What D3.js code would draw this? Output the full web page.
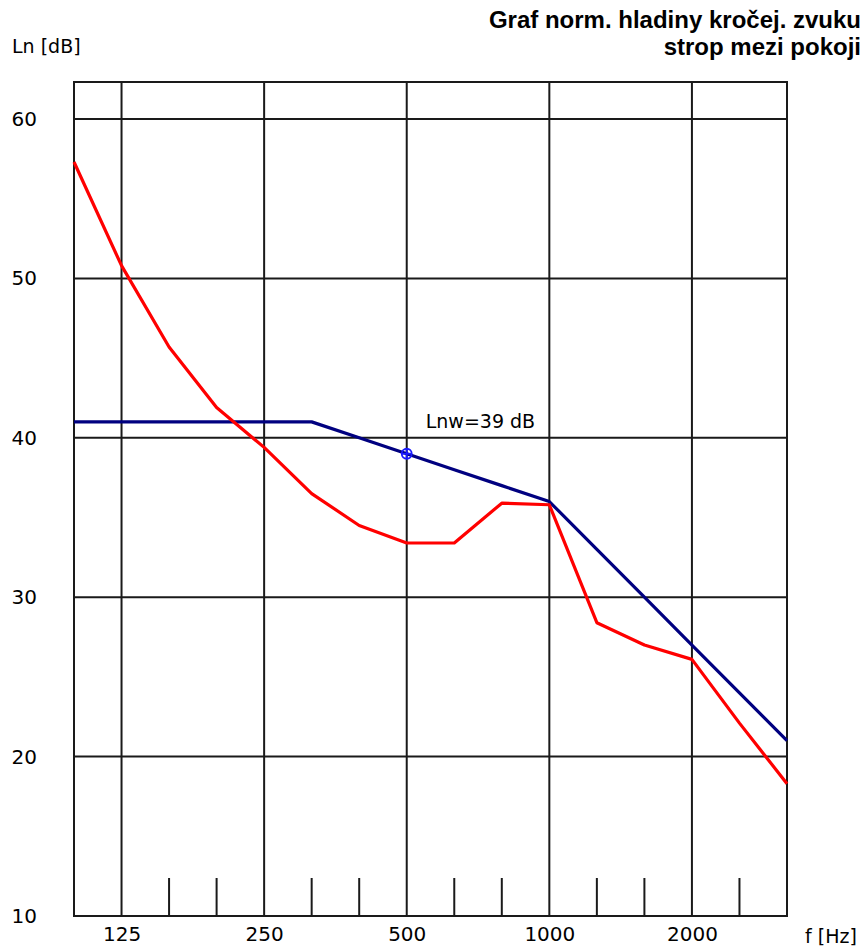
<!DOCTYPE html>
<html>
<head>
<meta charset="utf-8">
<script src="https://cdn.jsdelivr.net/npm/d3@7"></script>
<style>
  html, body { margin: 0; padding: 0; background: #fff; }
  svg { display: block; }
  text { fill: #000; }
</style>
</head>
<body>
<script>
// ---- data ----
const bands = ["100","125","160","200","250","315","400","500","630","800","1000","1250","1600","2000","2500","3150"];
const measured = [57.3, 50.8, 45.7, 41.9, 39.4, 36.5, 34.5, 33.4, 33.4, 35.9, 35.8, 28.4, 27.0, 26.1, 22.1, 18.3];
const reference = [41, 41, 41, 41, 41, 41, 40, 39, 38, 37, 36, 33, 30, 27, 24, 21];
const labeledBands = ["125","250","500","1000","2000"];
const yTicks = [10, 20, 30, 40, 50, 60];
const ratingBand = "500";
const ratingValue = 39;
const ratingLabel = "Lnw=39 dB";
const titleLines = ["Graf norm. hladiny kročej. zvuku", "strop mezi pokoji"];
const yAxisTitle = "Ln [dB]";
const xAxisTitle = "f [Hz]";

// ---- layout ----
const W = 868, H = 948;
const pL = 74, pR = 787, pT = 82, pB = 916;
const FONT = "'DejaVu Sans', 'Liberation Sans', Arial, sans-serif";
const TFONT = "'Liberation Sans', Arial, sans-serif";

const svg = d3.select("body").append("svg").attr("width", W).attr("height", H);

const x = d3.scalePoint().domain(bands).range([pL, pR]);
const y = d3.scaleLinear().domain([10, 10 + (pB - pT) / 15.94]).range([pB, pT]);

const grid = svg.append("g").attr("stroke", "#1a1a1a").attr("stroke-width", 2).attr("fill", "none");
// horizontal grid
grid.selectAll("line.h").data(yTicks.filter(d => d > 10)).join("line")
  .attr("x1", pL).attr("x2", pR).attr("y1", d => y(d)).attr("y2", d => y(d));
// vertical grid at labeled bands
grid.selectAll("line.v").data(labeledBands).join("line")
  .attr("x1", d => x(d)).attr("x2", d => x(d)).attr("y1", pT).attr("y2", pB);
// short ticks at other bands
grid.selectAll("line.t").data(bands.filter(b => !labeledBands.includes(b) && b !== bands[0] && b !== bands[bands.length-1])).join("line")
  .attr("x1", d => x(d)).attr("x2", d => x(d)).attr("y1", pB - 38).attr("y2", pB);
// frame
grid.append("rect").attr("x", pL).attr("y", pT).attr("width", pR - pL).attr("height", pB - pT);

// y axis labels
const yAxis = d3.axisLeft(y).tickValues(yTicks).tickSize(0).tickPadding(37).tickFormat(d3.format("d"));
const gy = svg.append("g").attr("transform", `translate(${pL},0)`).call(yAxis);
gy.select(".domain").remove();
gy.selectAll("text").style("font-size", "20px").style("font-family", FONT).attr("fill", "#000");

// x axis labels
const xAxis = d3.axisBottom(x).tickValues(labeledBands).tickSize(0).tickPadding(11);
const gx = svg.append("g").attr("transform", `translate(0,${pB})`).call(xAxis);
gx.select(".domain").remove();
gx.selectAll("text").style("font-size", "20px").style("font-family", FONT).attr("fill", "#000");

// curves
const line = d3.line().x((d, i) => x(bands[i])).y(d => y(d));
svg.append("path").datum(reference).attr("d", line)
  .attr("fill", "none").attr("stroke", "#000080").attr("stroke-width", 3.2).attr("stroke-linejoin", "round");
svg.append("path").datum(measured).attr("d", line)
  .attr("fill", "none").attr("stroke", "#ff0000").attr("stroke-width", 3.2).attr("stroke-linejoin", "round");

// rating marker
const mx = x(ratingBand), my = y(ratingValue);
const mk = svg.append("g").attr("stroke", "#1a1aff").attr("stroke-width", 1.8).attr("fill", "none");
mk.append("circle").attr("cx", mx).attr("cy", my).attr("r", 5);
mk.append("line").attr("x1", mx - 5).attr("x2", mx + 5).attr("y1", my).attr("y2", my);
mk.append("line").attr("x1", mx).attr("x2", mx).attr("y1", my - 5).attr("y2", my + 5);

svg.append("text").attr("x", mx + 19).attr("y", y(ratingValue + 1.6))
  .style("font-size", "19px").style("font-family", FONT)
  .attr("fill", "#222").text(ratingLabel);

// titles
svg.append("text").attr("x", 12).attr("y", 53).style("font-size", "19px").style("font-family", FONT).text(yAxisTitle);
svg.append("text").attr("x", 805).attr("y", 943).style("font-size", "19px").style("font-family", FONT).text(xAxisTitle);
svg.selectAll("text.title").data(titleLines).join("text")
  .attr("class", "title")
  .attr("x", 861).attr("y", (d, i) => 27.5 + i * 27)
  .attr("text-anchor", "end")
  .style("font-size", "24px").style("font-weight", "bold").style("font-family", TFONT)
  .text(d => d);
</script>
</body>
</html>
